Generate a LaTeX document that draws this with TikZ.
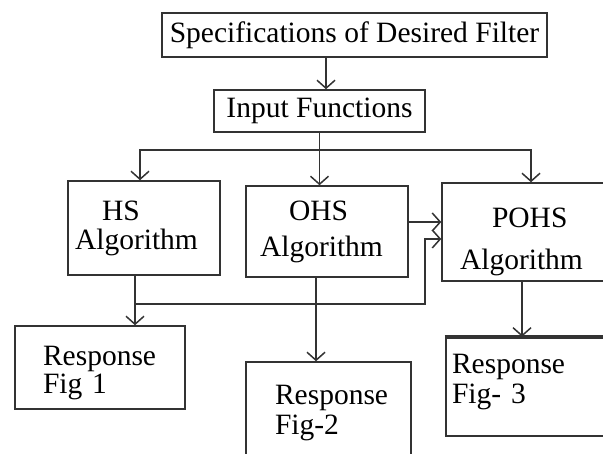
\documentclass[tikz,border=0pt]{standalone}
\usepackage{fontspec}
\setmainfont{Liberation Serif}
\usetikzlibrary{arrows.meta}
\hyphenpenalty=10000

\begin{document}
\begin{tikzpicture}[x=1pt, y=-1pt, line width=1.5pt, draw=black!80, >={Straight Barb[length=8pt,width=18pt]},%
        every node/.style={draw, inner sep=0pt, align=left, font=\fontsize{29.5}{30}\selectfont}]
    \useasboundingbox (0,0) rectangle (603,454);
    \node[align=center, minimum width=385pt, minimum height=44pt] (spec) at (354.5,35) {Specifications of Desired Filter};
    \node[align=center, minimum width=211pt, minimum height=42pt] (input) at (319.5,111) {Input Functions};
    % the three algorithms
    \node[minimum width=152pt, minimum height=94pt, text width=138pt] (hs) at (144,228) {\hspace*{27pt}HS\\[-1pt]Algorithm};
    \node[minimum width=162pt, minimum height=91pt, text width=134pt] (ohs) at (327,231.5) {\hspace*{29pt}OHS\\[6pt]Algorithm};
    \node[minimum width=178pt, minimum height=98pt, text width=142pt] (pohs) at (531,232) {\rule{0pt}{40pt}\hspace*{32pt}POHS\\[12pt]Algorithm};
    % responses
    \node[minimum width=170pt, minimum height=83pt, text width=114pt] (resp1) at (100,367.5) {\rule{0pt}{30pt}Response\\[-2pt]Fig 1};
    \node[minimum width=165pt, minimum height=118pt, text width=107pt] (resp2) at (328.5,421) {Response\\Fig-2\rule[-22pt]{0pt}{0pt}};
    \node[line width=2.6pt, minimum width=174pt, minimum height=98pt, text width=162pt] (resp3) at (533,387) {Response\\Fig- 3\rule[-16pt]{0pt}{0pt}};
    \draw[line width=4pt] (resp3.north west) -- (resp3.north east);

    \coordinate (bus) at (0,150);
    \coordinate (loop) at (425,304);
    \draw[->] ([xshift=-28.5pt]spec.south) -- ([xshift=6.5pt]input.north);
    \draw[->] (input.south) -- (input.south |- ohs.north);
    \draw[->] (input.south |- bus) -| ([xshift=-4pt]hs.north);
    \draw[->] (input.south |- bus) -| (pohs.north);
    \draw[->] ([yshift=9.5pt]ohs.east) -- ([yshift=9.5pt]ohs.east -| pohs.west);
    \draw[->] ([xshift=-9pt]hs.south) -- ([xshift=-9pt]hs.south |- resp1.north);
    \draw[->] ([xshift=-9pt]hs.south |- loop) -- (loop) |- ([yshift=-7pt]pohs.west);
    \draw[->] ([xshift=-11pt]ohs.south) -- ([xshift=-11pt]ohs.south |- resp2.north);
    \draw[->] ([xshift=-9pt]pohs.south) -- ([xshift=-9pt]pohs.south |- resp3.north);
\end{tikzpicture}
\end{document}
